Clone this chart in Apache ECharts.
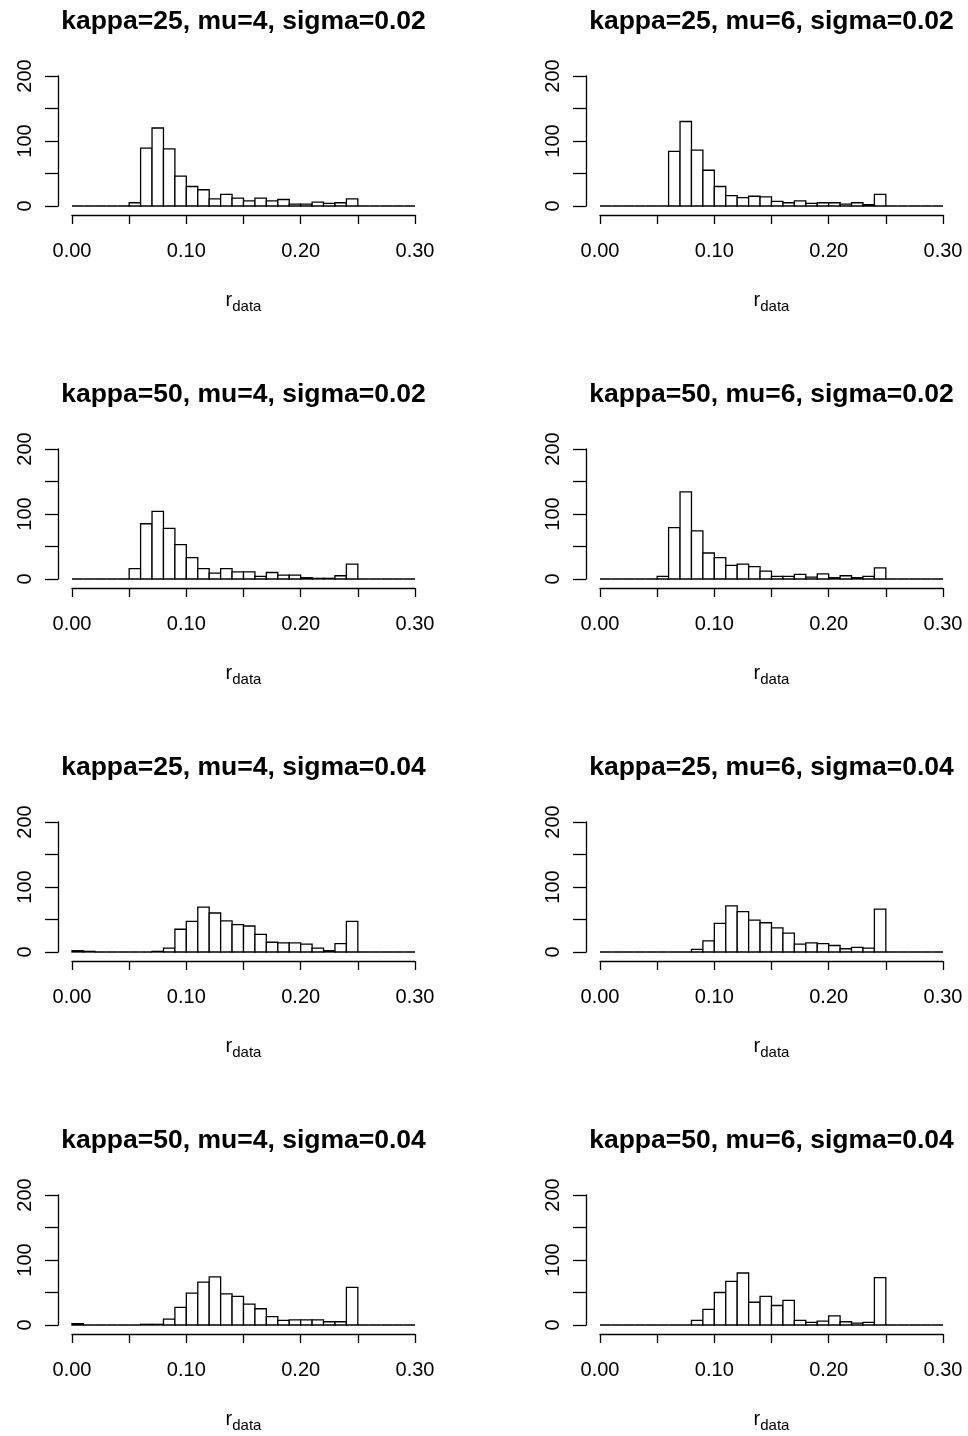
<!DOCTYPE html>
<html>
<head>
<meta charset="utf-8">
<script src="https://cdn.jsdelivr.net/npm/echarts@6/dist/echarts.min.js"></script>
<style>
html, body { margin: 0; padding: 0; background: #fff; }
#chart { width: 968px; height: 1436px; }
</style>
</head>
<body>
<div id="chart"></div>
<script>
// histogram bins: 0.00 .. 0.30, width 0.01
const binEdges = [0, 0.01, 0.02, 0.03, 0.04, 0.05, 0.06, 0.07, 0.08, 0.09, 0.10,
  0.11, 0.12, 0.13, 0.14, 0.15, 0.16, 0.17, 0.18, 0.19, 0.20,
  0.21, 0.22, 0.23, 0.24, 0.25, 0.26, 0.27, 0.28, 0.29, 0.30]

const panelTitles = [
  'kappa=25, mu=4, sigma=0.02', 'kappa=25, mu=6, sigma=0.02',
  'kappa=50, mu=4, sigma=0.02', 'kappa=50, mu=6, sigma=0.02',
  'kappa=25, mu=4, sigma=0.04', 'kappa=25, mu=6, sigma=0.04',
  'kappa=50, mu=4, sigma=0.04', 'kappa=50, mu=6, sigma=0.04'
]

const k25mu4s002 = [0, 0, 0, 0, 0, 5, 89, 120, 88, 46, 30, 25, 11, 18, 12, 8, 12, 8, 10, 3, 3, 6, 4, 5, 11, 0, 0, 0, 0, 0]
const k25mu6s002 = [0, 0, 0, 0, 0, 0, 84, 130, 86, 55, 30, 16, 13, 15, 14, 7, 5, 8, 4, 5, 5, 3, 5, 2, 18, 0, 0, 0, 0, 0]
const k50mu4s002 = [0, 0, 0, 0, 0, 16, 85, 104, 78, 53, 33, 16, 9, 16, 11, 11, 4, 10, 6, 6, 2, 1, 1, 5, 23, 0, 0, 0, 0, 0]
const k50mu6s002 = [0, 0, 0, 0, 0, 4, 79, 134, 74, 40, 33, 21, 23, 19, 12, 4, 4, 7, 3, 8, 2, 5, 2, 4, 17, 0, 0, 0, 0, 0]
const k25mu4s004 = [2, 1, 0, 0, 0, 0, 0, 1, 6, 35, 47, 69, 60, 48, 42, 40, 27, 15, 14, 14, 12, 6, 2, 13, 47, 0, 0, 0, 0, 0]
const k25mu6s004 = [0, 0, 0, 0, 0, 0, 0, 0, 4, 17, 44, 71, 62, 49, 45, 37, 29, 12, 14, 13, 10, 5, 7, 6, 66, 0, 0, 0, 0, 0]
const k50mu4s004 = [2, 0, 0, 0, 0, 0, 1, 1, 9, 27, 49, 66, 74, 48, 44, 32, 25, 13, 7, 8, 8, 8, 5, 5, 58, 0, 0, 0, 0, 0]
const k50mu6s004 = [0, 0, 0, 0, 0, 0, 0, 0, 7, 24, 50, 67, 80, 35, 44, 30, 38, 7, 4, 6, 14, 5, 3, 4, 73, 0, 0, 0, 0, 0]

const panelCounts = [k25mu4s002, k25mu6s002, k50mu4s002, k50mu6s002,
  k25mu4s004, k25mu6s004, k50mu4s004, k50mu6s004]

const xLabelValues = [0, 0.1, 0.2, 0.3]
const yLabelValues = [0, 100, 200]

const font = '"Liberation Sans", Arial, Helvetica, sans-serif'
const lw = 1.3

const chart = echarts.init(document.getElementById('chart'))

const grids = []
const xAxes = []
const yAxes = []
const series = []
const titles = []

panelCounts.forEach((counts, i) => {
  const col = i % 2
  const row = Math.floor(i / 2)
  const left = 72 + col * 528
  const top = 76 + row * 373

  grids.push({ left, top, width: 343, height: 130, outerBoundsMode: 'none' })

  titles.push({
    text: panelTitles[i],
    left: left + 171.5,
    top: top - 68,
    textAlign: 'center',
    padding: 0,
    textStyle: { fontFamily: font, fontSize: 26.5, fontWeight: 'bold', color: '#000' }
  })

  xAxes.push({
    type: 'value',
    gridIndex: i,
    min: 0,
    max: 0.3,
    interval: 0.05,
    offset: 9,
    splitLine: { show: false },
    axisLine: { show: true, onZero: false, lineStyle: { color: '#000', width: lw } },
    axisTick: { show: true, length: 9, lineStyle: { color: '#000', width: lw } },
    axisLabel: {
      margin: 26,
      fontFamily: font,
      fontSize: 20,
      color: '#000',
      showMinLabel: true,
      showMaxLabel: true,
      formatter: v => xLabelValues.some(t => Math.abs(t - v) < 1e-9) ? v.toFixed(2) : ''
    },
    name: '{r|r}{s|data}',
    nameLocation: 'middle',
    nameGap: 75,
    nameTextStyle: {
      rich: {
        r: { fontFamily: font, fontSize: 20, color: '#000', verticalAlign: 'top', lineHeight: 20 },
        s: { fontFamily: font, fontSize: 15, color: '#000', verticalAlign: 'top', lineHeight: 15, padding: [9, 0, 0, 0] }
      }
    }
  })

  yAxes.push({
    type: 'value',
    gridIndex: i,
    min: 0,
    max: 200,
    interval: 50,
    offset: 14,
    splitLine: { show: false },
    axisLine: { show: true, onZero: false, lineStyle: { color: '#000', width: lw } },
    axisTick: { show: true, length: 13, lineStyle: { color: '#000', width: lw } },
    axisLabel: {
      rotate: 90,
      margin: 23,
      fontFamily: font,
      fontSize: 20,
      color: '#000',
      showMinLabel: true,
      showMaxLabel: true,
      formatter: v => yLabelValues.includes(v) ? String(v) : ''
    }
  })

  series.push({
    type: 'custom',
    xAxisIndex: i,
    yAxisIndex: i,
    silent: true,
    clip: false,
    encode: { x: [0, 1], y: 2 },
    data: counts.map((c, k) => [binEdges[k], binEdges[k + 1], c]),
    renderItem(params, api) {
      const p0 = api.coord([api.value(0), api.value(2)])
      const p1 = api.coord([api.value(1), 0])
      return {
        type: 'rect',
        shape: { x: p0[0], y: p0[1], width: p1[0] - p0[0], height: p1[1] - p0[1] },
        style: { fill: '#fff', stroke: '#000', lineWidth: lw }
      }
    }
  })
})

chart.setOption({
  backgroundColor: '#fff',
  animation: false,
  title: titles,
  grid: grids,
  xAxis: xAxes,
  yAxis: yAxes,
  series
})
</script>
</body>
</html>
